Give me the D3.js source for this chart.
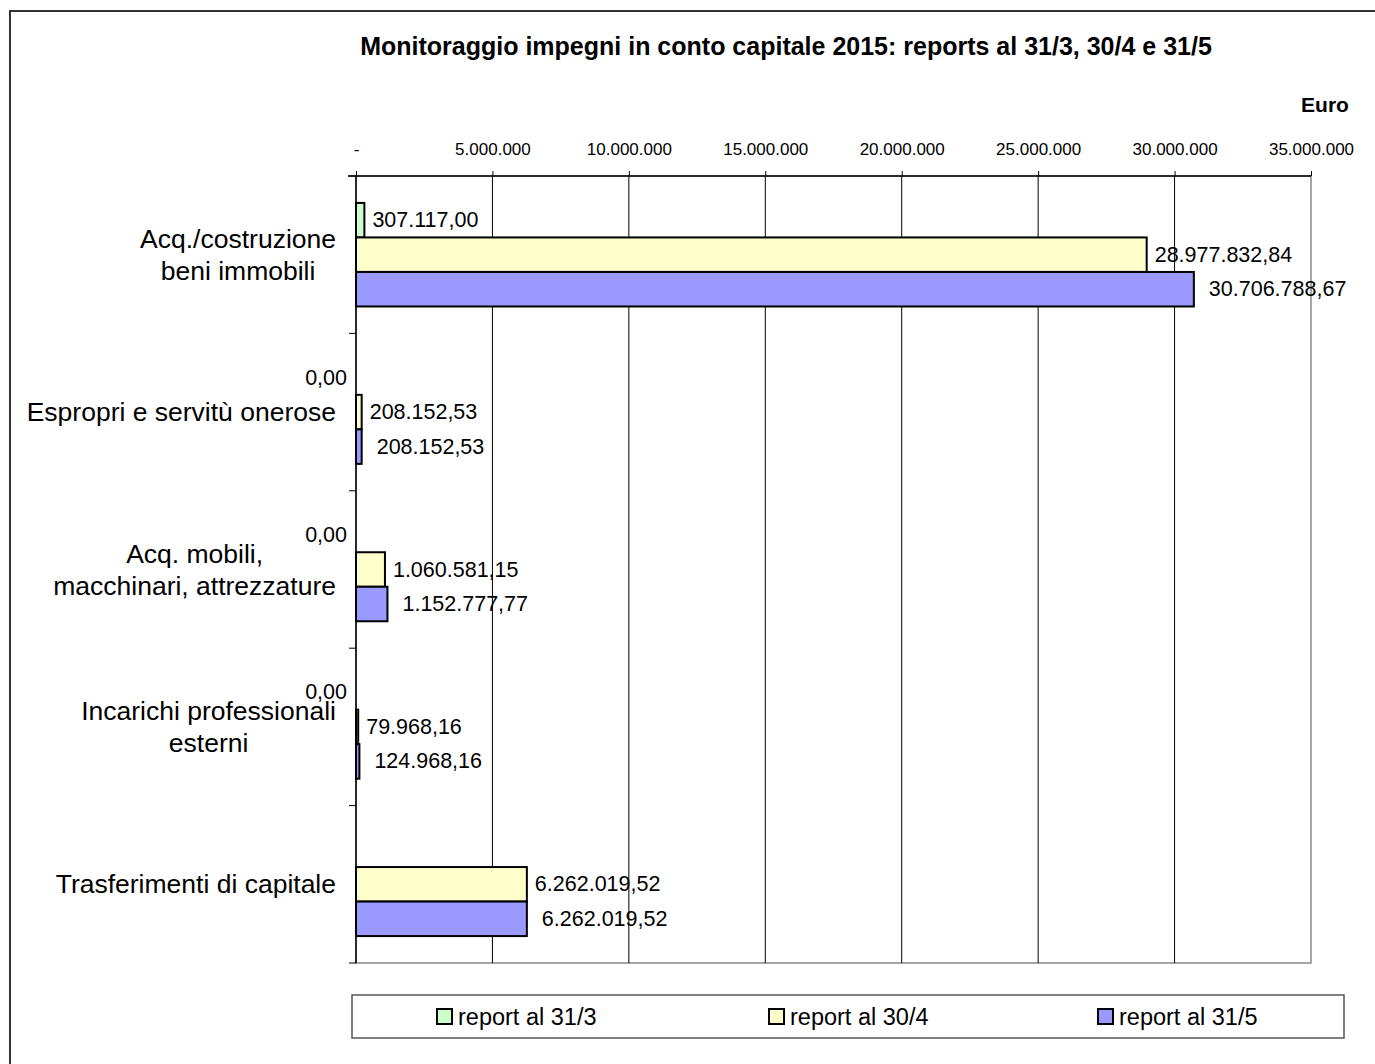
<!DOCTYPE html>
<html>
<head>
<meta charset="utf-8">
<script src="https://cdn.jsdelivr.net/npm/d3@7"></script>
<style>
  body { margin: 0; background: #fff; }
  svg { font-family: "Liberation Sans", Arial, sans-serif; }
</style>
</head>
<body>
<svg id="svg" width="1375" height="1064"></svg>
<script>
// categories, top to bottom
const categories = [
  ["Acq./costruzione", "beni immobili"],
  ["Espropri e servitù onerose"],
  ["Acq. mobili,", "macchinari, attrezzature"],
  ["Incarichi professionali", "esterni"],
  ["Trasferimenti di capitale"]
];
const seriesNames = ["report al 31/3", "report al 30/4", "report al 31/5"];
const seriesColors = ["#CCFFCC", "#FFFFCC", "#9999FF"];
// values in euro (null = no bar / no label)
const report313 = [307117.00, 0, 0, 0, null];
const report304 = [28977832.84, 208152.53, 1060581.15, 79968.16, 6262019.52];
const report315 = [30706788.67, 208152.53, 1152777.77, 124968.16, 6262019.52];
const tickValues = [0, 5000000, 10000000, 15000000, 20000000, 25000000, 30000000, 35000000];

const series = [report313, report304, report315];
const svg = d3.select("#svg");

// number format "1.234.567,89"
const itLocale = d3.formatLocale({ decimal: ",", thousands: ".", grouping: [3], currency: ["", "€"] });
const fmtVal = itLocale.format(",.2f");
const fmtTick = d => d === 0 ? "-" : itLocale.format(",.0f")(d);

const plot = { left: 356, right: 1311, top: 176, bottom: 963 };

const x = d3.scaleLinear().domain([0, 35000000]).range([plot.left, plot.right]);
const y0 = d3.scaleBand().domain(d3.range(categories.length)).range([plot.top, plot.bottom]);
const y1 = d3.scaleBand().domain(d3.range(series.length)).range([0, y0.bandwidth()]).paddingOuter(0.78);

// outer frame
svg.append("rect").attr("x", 10).attr("y", 11).attr("width", 1400).attr("height", 1100)
  .attr("fill", "none").attr("stroke", "#333").attr("stroke-width", 2);

// title
svg.append("text").attr("x", 786).attr("y", 55).attr("text-anchor", "middle")
  .attr("font-size", 25).attr("font-weight", "bold")
  .text("Monitoraggio impegni in conto capitale 2015: reports al 31/3, 30/4 e 31/5");
svg.append("text").attr("x", 1325).attr("y", 112).attr("text-anchor", "middle")
  .attr("font-size", 21).attr("font-weight", "bold").text("Euro");

// plot border (right/bottom grey)
svg.append("rect").attr("x", plot.left).attr("y", plot.top)
  .attr("width", plot.right - plot.left).attr("height", plot.bottom - plot.top)
  .attr("fill", "none").attr("stroke", "#888").attr("stroke-width", 1.5);

// gridlines
svg.append("g").selectAll("line").data(tickValues.slice(1, -1)).join("line")
  .attr("x1", d => x(d)).attr("x2", d => x(d))
  .attr("y1", plot.top).attr("y2", plot.bottom)
  .attr("stroke", "#000").attr("stroke-width", 1);

// top axis
const xAxis = svg.append("g").attr("transform", `translate(0,${plot.top})`)
  .call(d3.axisTop(x).tickValues(tickValues).tickFormat(fmtTick).tickSizeOuter(0).tickSize(5).tickPadding(16));
xAxis.select(".domain").attr("stroke", "#000").attr("stroke-width", 1.5).attr("d", `M${plot.left - 8},0H${plot.right}`);
xAxis.selectAll("text").attr("font-size", 17).attr("fill", "#000").attr("font-family", null);
xAxis.selectAll("line").attr("stroke", "#000");

// left axis with ticks between categories
svg.append("line").attr("x1", plot.left).attr("x2", plot.left)
  .attr("y1", plot.top).attr("y2", plot.bottom).attr("stroke", "#000").attr("stroke-width", 1.5);
svg.append("g").selectAll("line").data(d3.range(categories.length + 1)).join("line")
  .attr("x1", plot.left - 7).attr("x2", plot.left)
  .attr("y1", i => plot.top + i * y0.step()).attr("y2", i => plot.top + i * y0.step())
  .attr("stroke", "#000").attr("stroke-width", 1);

// category labels: block right-aligned, lines centred
const catG = svg.append("g");
categories.forEach((lines, i) => {
  const g = catG.append("g");
  const lh = 32;
  const cy = y0(i) + y0.bandwidth() / 2;
  const texts = lines.map((l, k) => g.append("text")
    .attr("y", cy + (k - (lines.length - 1) / 2) * lh)
    .attr("dominant-baseline", "central")
    .attr("text-anchor", "middle")
    .attr("font-size", 26.5).text(l));
  const w = d3.max(texts, t => t.node().getComputedTextLength());
  texts.forEach(t => t.attr("x", 336 - w / 2));
});

// bars
series.forEach((vals, s) => {
  const g = svg.append("g");
  const rows = vals.map((v, i) => ({ v, i })).filter(d => d.v !== null);
  g.selectAll("rect").data(rows.filter(d => d.v > 0)).join("rect")
    .attr("x", x(0))
    .attr("y", d => y0(d.i) + y1(s))
    .attr("width", d => x(d.v) - x(0))
    .attr("height", y1.bandwidth())
    .attr("fill", seriesColors[s])
    .attr("stroke", "#000").attr("stroke-width", 2);
  g.selectAll("text").data(rows).join("text")
    .attr("x", d => d.v > 0 ? x(d.v) + (s === 2 ? 15 : 8) : x(0) - 9)
    .attr("y", d => y0(d.i) + y1(s) + y1.bandwidth() / 2)
    .attr("text-anchor", d => d.v > 0 ? "start" : "end")
    .attr("dominant-baseline", "central")
    .attr("font-size", 21.5)
    .text(d => fmtVal(d.v));
});

// legend
const leg = svg.append("g");
leg.append("rect").attr("x", 352).attr("y", 995).attr("width", 992).attr("height", 43)
  .attr("fill", "#fff").attr("stroke", "#555").attr("stroke-width", 1.5);
const legX = [437, 769, 1098];
seriesNames.forEach((name, s) => {
  leg.append("rect").attr("x", legX[s]).attr("y", 1009).attr("width", 15).attr("height", 15)
    .attr("fill", seriesColors[s]).attr("stroke", "#000").attr("stroke-width", 2);
  leg.append("text").attr("x", legX[s] + 21).attr("y", 1017).attr("dominant-baseline", "central")
    .attr("font-size", 23.5).text(name);
});
</script>
</body>
</html>
